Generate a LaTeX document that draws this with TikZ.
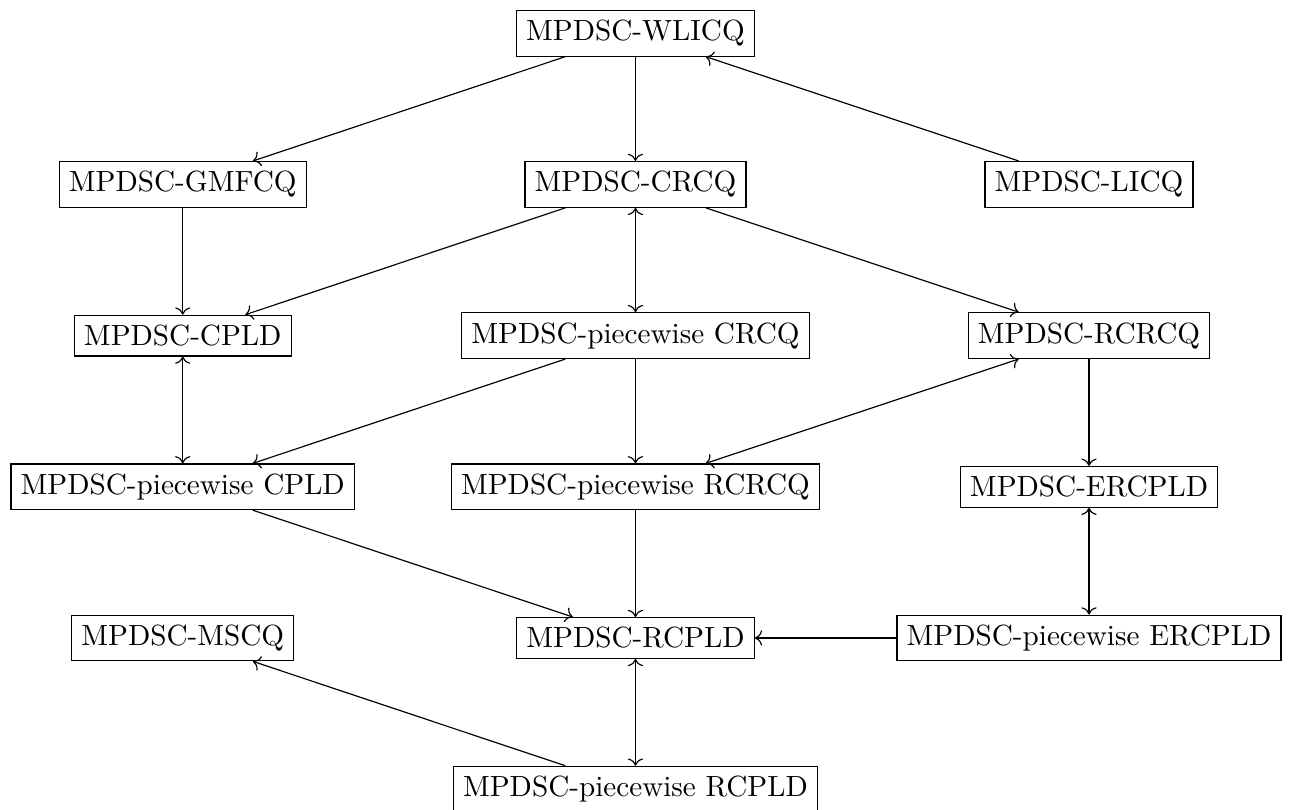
\documentclass[tikz,border=0pt]{standalone}
\usepackage{tikz}
\usetikzlibrary{arrows.meta, positioning}

\begin{document}
\begin{tikzpicture}
			\tikzstyle{cq}=[draw,shape=rectangle]
			
			\useasboundingbox (0,0) rectangle (15.59,-9.75);
			
			\node[cq](wlicq) at (7.65,-0.4){MPDSC-WLICQ};
			
			\node[cq](gmfcq) at (2.2,-2.22){MPDSC-GMFCQ};
			\node[cq](crcq) at (7.65,-2.22){MPDSC-CRCQ};
			\node[cq](licq) at (13.11,-2.22){MPDSC-LICQ};
			
			\node[cq](cpld) at (2.2,-4.04){MPDSC-CPLD};
			\node[cq](pcrcq) at (7.65,-4.04){MPDSC-piecewise CRCQ};
			\node[cq](rcrcq) at (13.11,-4.04){MPDSC-RCRCQ};
			
			\node[cq](pcpld) at (2.2,-5.86){MPDSC-piecewise CPLD};
			\node[cq](prcrcq) at (7.65,-5.86){MPDSC-piecewise RCRCQ};
			\node[cq](ercpld) at (13.11,-5.86){MPDSC-ERCPLD};
			
			\node[cq](mscq) at (2.2,-7.68){MPDSC-MSCQ};
			\node[cq](rcpld) at (7.65,-7.68){MPDSC-RCPLD};
			\node[cq](percpld) at (13.11,-7.68){MPDSC-piecewise ERCPLD};
			
			\node[cq](prcpld) at (7.65,-9.5){MPDSC-piecewise RCPLD};
			
			
			\draw[->] (wlicq) -- (gmfcq);
			\draw[->] (wlicq) -- (crcq);
			\draw[->] (licq) -- (wlicq);
			
			\draw[->] (gmfcq) -- (cpld);
			\draw[->] (crcq) -- (cpld);
			\draw[<->] (crcq) -- (pcrcq);
			\draw[->] (crcq) -- (rcrcq);
			
			\draw[<->] (cpld) -- (pcpld);
			\draw[->] (pcrcq) -- (pcpld);
			\draw[->] (pcrcq) -- (prcrcq);
			\draw[<->] (rcrcq) -- (prcrcq);
			\draw[->] (rcrcq) -- (ercpld);
			
			\draw[->] (pcpld) -- (rcpld);
			\draw[->] (prcrcq) -- (rcpld);
			\draw[<->] (ercpld) -- (percpld);
			\draw[->] (percpld) -- (rcpld);
			
			\draw[<->] (rcpld) -- (prcpld);
			\draw[->] (prcpld) -- (mscq);
		\end{tikzpicture}
\end{document}
